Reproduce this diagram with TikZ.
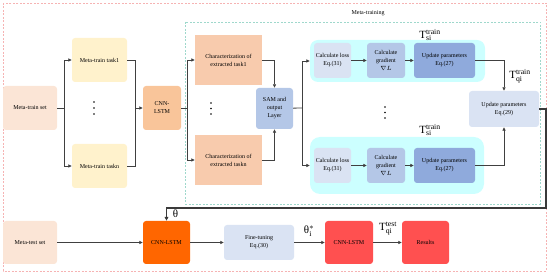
\documentclass[tikz,border=0pt]{standalone}
\usepackage{fontspec}
\setmainfont{Liberation Serif}
\usetikzlibrary{arrows.meta}
\definecolor{cPeach}{HTML}{FBE5D6}
\definecolor{cYellow}{HTML}{FFF2CC}
\definecolor{cOrgL}{HTML}{F9C59A}
\definecolor{cChar}{HTML}{F8CBAD}
\definecolor{cBlueM}{HTML}{B4C7E7}
\definecolor{cBlueL}{HTML}{DAE3F3}
\definecolor{cBlueD}{HTML}{8FAADC}
\definecolor{cCyan}{HTML}{CCFFFF}
\definecolor{cOrange}{HTML}{FF6600}
\definecolor{cRed}{HTML}{FF5050}
\definecolor{cLine}{HTML}{404040}
\definecolor{cPink}{HTML}{F6B3B3}
\definecolor{cTeal}{HTML}{9FD8CC}
\begin{document}
\begin{tikzpicture}[x=1pt,y=-1pt,
  bx/.style={draw=none,rounded corners=3pt,align=center,inner sep=1pt,
    font=\fontsize{6}{8}\selectfont},
  sq/.style={draw=none,sharp corners,align=center,inner sep=1pt,
    font=\fontsize{6}{8}\selectfont},
  ln/.style={draw=cLine,line width=0.8pt},
  ar/.style={ln,-{Triangle[length=3.5pt,width=3.2pt]}},
  fb/.style={draw=cLine!90!black,line width=1.1pt,-{Triangle[length=3.8pt,width=3.5pt]}},
  lbl/.style={inner sep=0pt,font=\fontsize{11}{11}\selectfont},
  dotm/.style={circle,fill=black,inner sep=0pt,minimum size=1.7pt}]
\useasboundingbox (0,0) rectangle (550,275);
% frames
\draw[cPink,line width=0.5pt,dash pattern=on 2pt off 1.5pt] (3,3) rectangle (546,271);
\draw[cTeal,line width=0.5pt,dash pattern=on 2pt off 1.5pt] (185,22) rectangle (540,204);
\node[inner sep=0pt,font=\fontsize{6}{8}\selectfont] (mtlabel) at (368,13) {Meta-training};
% top row
\node[bx,fill=cPeach,minimum width=54pt,minimum height=44pt] (mtset) at (30,108) {Meta-train set};
\node[bx,fill=cYellow,minimum width=55pt,minimum height=44pt] (task1) at (99.5,60) {Meta-train task1};
\node[bx,fill=cYellow,minimum width=55pt,minimum height=44pt] (taskn) at (99.5,166) {Meta-train taskn};
\node[bx,fill=cOrgL,minimum width=38pt,minimum height=44pt] (cnn1) at (162,108) {CNN-\\LSTM};
\node[sq,fill=cChar,minimum width=67pt,minimum height=50pt] (char1) at (228.5,60) {Characterization of\\extracted task1};
\node[sq,fill=cChar,minimum width=67pt,minimum height=50pt] (charn) at (228.5,160) {Characterization of\\extracted taskn};
\node[bx,fill=cBlueM,minimum width=37pt,minimum height=41pt] (sam) at (274.5,108.5) {SAM and\\output\\Layer};
\node[bx,fill=cCyan,rounded corners=8pt,minimum width=175pt,minimum height=42pt] (cyan1) at (397.5,61) {};
\node[bx,fill=cCyan,rounded corners=10pt,minimum width=174pt,minimum height=57pt] (cyann) at (397,165.5) {};
\node[bx,fill=cBlueL,minimum width=37pt,minimum height=35pt] (loss1) at (332.5,60.5) {Calculate loss\\Eq.(31)};
\node[bx,fill=cBlueM,minimum width=38pt,minimum height=35pt] (grad1) at (386,60.5) {Calculate\\gradient\\$\nabla L$};
\node[bx,fill=cBlueD,minimum width=61pt,minimum height=35pt] (upd1) at (444.5,60.5) {Update parameters\\Eq.(27)};
\node[bx,fill=cBlueL,minimum width=37pt,minimum height=35pt] (lossn) at (332.5,165.5) {Calculate loss\\Eq.(31)};
\node[bx,fill=cBlueM,minimum width=38pt,minimum height=35pt] (gradn) at (386,165.5) {Calculate\\gradient\\$\nabla L$};
\node[bx,fill=cBlueD,minimum width=61pt,minimum height=35pt] (updn) at (444.5,165.5) {Update parameters\\Eq.(27)};
\node[bx,fill=cBlueL,minimum width=70pt,minimum height=36pt] (upd29) at (504,109) {Update parameters\\Eq.(29)};
% dots
\node[dotm] (d1) at (94,102) {};
\node[dotm] (d2) at (94,108) {};
\node[dotm] (d3) at (94,114) {};
\node[dotm] (d4) at (211,103) {};
\node[dotm] (d5) at (211,108.5) {};
\node[dotm] (d6) at (211,114) {};
\node[dotm] (d7) at (385,107) {};
\node[dotm] (d8) at (385,112.5) {};
\node[dotm] (d9) at (385,118) {};
% labels
\node[lbl] (tsi1) at (430,35) {T$^{\mathrm{train}}_{\mathrm{si}}$};
\node[lbl] (tsin) at (430,130) {T$^{\mathrm{train}}_{\mathrm{si}}$};
\node[lbl] (tqi) at (520,76) {T$^{\mathrm{train}}_{\mathrm{qi}}$};
% bottom row
\node[bx,fill=cPeach,minimum width=54pt,minimum height=43pt] (mtest) at (30,242.5) {Meta-test set};
\node[bx,fill=cOrange,minimum width=47pt,minimum height=43pt] (cnn2) at (166.5,242.5) {CNN-LSTM};
\node[bx,fill=cBlueL,minimum width=70pt,minimum height=35pt] (fine) at (259,242.5) {Fine-tuning\\Eq.(30)};
\node[bx,fill=cRed,minimum width=48pt,minimum height=43pt] (cnn3) at (349,242.5) {CNN-LSTM};
\node[bx,fill=cRed,minimum width=47pt,minimum height=43pt] (res) at (425.5,242.5) {Results};
\node[lbl] (theta) at (175.5,214) {θ};
\node[lbl] (thetas) at (309,231) {θ$^{*}_{\mathrm{i}}$};
\node[lbl] (tqt) at (388,229) {T$^{\mathrm{test}}_{\mathrm{qi}}$};
% junctions
\coordinate (j1) at (64,108);
\coordinate (j2) at (135,108);
\coordinate (j3) at (187,108);
\coordinate (j4) at (302,108);
\coordinate (c1) at (546,208);
% connectors
\draw[ln] (mtset) -- (j1);
\draw[ar] (j1) |- (task1);
\draw[ar] (j1) |- (taskn);
\draw[ln] (task1) -| (j2);
\draw[ln] (taskn) -| (j2);
\draw[ar] (j2) -- (cnn1);
\draw[ln] (cnn1) -- (j3);
\draw[ar] (j3) |- (char1);
\draw[ar] (j3) |- (charn);
\draw[ar] (char1) -| (sam);
\draw[ar] (charn) -| (sam);
\draw[ln] (sam) -- (j4);
\draw[ar] (j4) |- (cyan1);
\draw[ar] (j4) |- (cyann);
\draw[ar] (loss1) -- (grad1);
\draw[ar] (grad1) -- (upd1);
\draw[ar] (lossn) -- (gradn);
\draw[ar] (gradn) -- (updn);
\draw[ar] (upd1) -| (upd29);
\draw[ar] (updn) -| (upd29);
\draw[fb] (upd29) -| (c1) -| (cnn2);
\draw[ar] (mtest) -- (cnn2);
\draw[ar] (cnn2) -- (fine);
\draw[ar] (fine) -- (cnn3);
\draw[ar] (cnn3) -- (res);
\end{tikzpicture}
\end{document}
